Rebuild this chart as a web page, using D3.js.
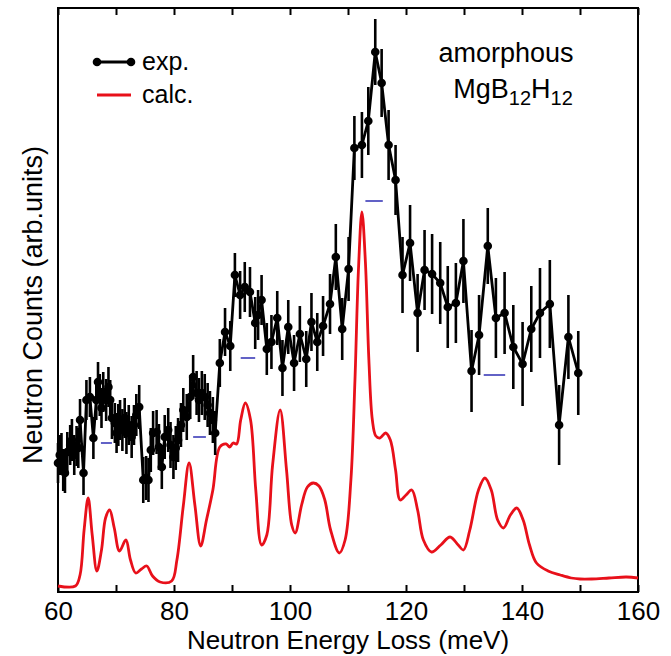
<!DOCTYPE html>
<html><head><meta charset="utf-8">
<script src="https://cdn.jsdelivr.net/npm/d3@7"></script>
<style>
html,body{margin:0;padding:0;background:#fff;}
svg text{font-family:"Liberation Sans",Arial,Helvetica,sans-serif;}
</style></head>
<body>
<svg id="chart" width="671" height="656"></svg>
<script>
// ---- data (arbitrary units) ----
const expEnergy = [60.0,60.3,60.6,60.9,61.2,61.6,62.1,62.4,62.8,63.2,63.5,63.8,64.4,64.9,65.5,66.1,66.6,66.9,67.2,67.5,67.8,68.3,68.7,69.0,69.3,69.8,70.1,70.4,70.7,71.1,71.5,71.8,72.2,72.7,73.1,73.5,74.0,74.7,75.2,75.6,76.0,76.4,77.0,77.4,77.9,78.4,79.0,79.4,79.9,80.3,80.7,81.2,81.6,82.2,82.8,83.3,83.9,84.3,84.8,85.3,85.8,86.2,86.7,87.1,87.9,88.8,89.7,90.5,91.4,92.2,93.1,94.0,94.5,95.1,96.0,96.8,97.8,98.7,99.7,100.7,101.7,102.8,103.7,104.7,105.7,106.9,107.9,109.0,110.1,111.1,112.4,113.5,114.7,115.8,117.0,118.2,119.4,120.7,122.0,123.2,124.5,125.9,127.2,128.6,129.9,131.3,132.6,134.1,135.5,137.0,138.5,140.1,141.6,143.1,144.8,146.4,148.0,149.7];
const expCounts = [129,137,139,122,119,140,147,152,137,146,144,172,119,192,195,154,192,210,197,184,200,192,205,192,174,169,159,167,172,162,174,159,167,155,167,177,185,112,114,112,142,159,160,145,125,155,162,147,135,144,152,167,182,175,195,215,199,192,199,195,187,179,172,159,229,260,246,317,297,305,300,269,277,292,243,250,274,224,265,229,258,233,270,250,266,288,335,263,323,444,447,471,540,509,447,412,317,349,279,322,318,309,285,289,331,221,257,346,274,279,245,228,263,279,288,167,255,219];
const expError = [20,20,20,21,20,20,20,21,20,20,20,21,22,20,20,21,20,20,21,20,20,21,20,20,21,20,20,21,20,21,20,21,20,21,20,21,22,23,22,22,22,22,22,23,22,22,22,23,22,22,22,22,22,23,22,22,22,22,22,23,22,22,23,22,24,24,25,22,24,25,25,26,25,25,26,27,27,28,27,28,28,28,29,29,30,30,33,31,32,32,33,34,33,34,35,35,38,38,39,40,40,41,41,40,42,41,40,38,40,41,42,42,43,45,44,40,42,42];

const calcEnergy = [60,63,63.8,64.5,65.2,65.9,66.7,67.5,68.2,68.9,69.7,70.6,71.7,72.5,73.4,74.4,75.3,76.3,77.6,79.6,80.5,81.6,82.6,83.6,84.6,85.6,86.7,87.9,89.0,89.6,90.2,90.8,91.5,92.3,93.2,94.1,95.1,96.0,97.0,98.3,99.4,100.3,100.9,102,103,104,105,106,107,108.5,109.5,110.5,111.2,111.8,112.4,113.0,113.6,114.2,114.8,115.5,116.5,117.3,118.2,119.0,120.0,121.0,122.0,123.0,124.4,126.0,127.6,129.0,129.9,131.0,132.5,133.6,134.7,135.8,136.8,138.0,139.1,140.2,141.3,142.5,144.5,146.6,148.5,150,152,155,158,160];
const calcCounts = [6,6,17,62,94,57,21,42,74,82,64,41,52,32,19,23,26,16,10,11,32,86,129,87,46,72,102,145,148,145,149,148,172,189,172,102,47,57,127,182,122,67,59,87,105,109,106,92,62,39,52,112,212,322,380,330,232,172,156,154,159,152,122,92,97,102,82,52,40,47,55,47,42,62,102,114,102,72,64,77,84,72,47,29,21,17,14,13,13,14,15,14];

const resCenter = [68.35,84.4,92.75,114.5,135.25];
const resWidth  = [1.9,2.2,2.5,3.0,3.7];
const resLevel  = [149,155,234,391,217];

const xTickValues = [60,70,80,90,100,110,120,130,140,150,160];
const xLabelValues = [60,80,100,120,140,160];
const legendLabels = ["exp.","calc."];

// ---- layout ----
const svg = d3.select("#chart");
const L = 58, R = 638, T = 8, B = 592;
const x = d3.scaleLinear().domain([60,160]).range([L,R]);
const y = d3.scaleLinear().domain([0,584]).range([B,T]);

// axes
const gb = svg.append("g").attr("transform",`translate(0,${B})`)
  .call(d3.axisBottom(x).tickValues(xTickValues).tickSizeInner(-7).tickSizeOuter(0).tickPadding(10)
    .tickFormat(d => xLabelValues.includes(d) ? d : ""));
gb.select(".domain").remove();
gb.selectAll("line").attr("stroke","#000").attr("stroke-width",2);
gb.selectAll("text").attr("font-size",26).attr("fill","#000").style("font-family","'Liberation Sans',Arial,sans-serif");

const gt = svg.append("g").attr("transform",`translate(0,${T})`)
  .call(d3.axisTop(x).tickValues(xTickValues).tickSizeInner(-7).tickSizeOuter(0).tickFormat(""));
gt.select(".domain").remove();
gt.selectAll("line").attr("stroke","#000").attr("stroke-width",2);

// frame
svg.append("rect").attr("x",L).attr("y",T).attr("width",R-L).attr("height",B-T)
  .attr("fill","none").attr("stroke","#000").attr("stroke-width",2);

// calc line
svg.append("path").datum(calcEnergy.map((e,i)=>[e,calcCounts[i]]))
  .attr("fill","none").attr("stroke","#e8101a").attr("stroke-width",2.8)
  .attr("d", d3.line().x(d=>x(d[0])).y(d=>y(d[1])).curve(d3.curveCatmullRom.alpha(0.5)));

// resolution bars
svg.append("g").selectAll("line").data(resCenter).join("line")
  .attr("x1",(c,i)=>x(c-resWidth[i]/2)).attr("x2",(c,i)=>x(c+resWidth[i]/2))
  .attr("y1",(c,i)=>y(resLevel[i])).attr("y2",(c,i)=>y(resLevel[i]))
  .attr("stroke","#3a3ab8").attr("stroke-width",1.6);

// exp error bars
const expData = expEnergy.map((e,i)=>({e, c:expCounts[i], s:expError[i]}));
svg.append("g").selectAll("line").data(expData).join("line")
  .attr("x1",d=>x(d.e)).attr("x2",d=>x(d.e))
  .attr("y1",d=>y(d.c-d.s)).attr("y2",d=>y(d.c+d.s))
  .attr("stroke","#000").attr("stroke-width",2.6);
// exp line
svg.append("path").datum(expData).attr("fill","none").attr("stroke","#000").attr("stroke-width",2.8)
  .attr("d", d3.line().x(d=>x(d.e)).y(d=>y(d.c)));
svg.append("g").selectAll("circle").data(expData).join("circle")
  .attr("cx",d=>x(d.e)).attr("cy",d=>y(d.c)).attr("r",4.3).attr("fill","#000");

// legend
const lg = svg.append("g");
lg.append("line").attr("x1",97).attr("x2",131).attr("y1",62).attr("y2",62).attr("stroke","#000").attr("stroke-width",2.8);
lg.append("circle").attr("cx",97).attr("cy",62).attr("r",4.3).attr("fill","#000");
lg.append("circle").attr("cx",131).attr("cy",62).attr("r",4.3).attr("fill","#000");
lg.append("line").attr("x1",97).attr("x2",131).attr("y1",95).attr("y2",95).attr("stroke","#e8101a").attr("stroke-width",2.8);
lg.append("text").attr("x",142).attr("y",70).attr("font-size",25).text(legendLabels[0]);
lg.append("text").attr("x",142).attr("y",103).attr("font-size",25).text(legendLabels[1]);

// sample label
svg.append("text").attr("x",506).attr("y",62).attr("text-anchor","middle").attr("font-size",27).text("amorphous");
const t2 = svg.append("text").attr("x",513).attr("y",98).attr("text-anchor","middle").attr("font-size",27);
t2.append("tspan").text("MgB");
t2.append("tspan").attr("font-size",20).attr("dy",7).text("12");
t2.append("tspan").attr("dy",-7).text("H");
t2.append("tspan").attr("font-size",20).attr("dy",7).text("12");

// axis titles
svg.append("text").attr("x",(L+R)/2).attr("y",649).attr("text-anchor","middle").attr("font-size",26)
  .text("Neutron Energy Loss (meV)");
svg.append("text").attr("transform",`translate(42,${305}) rotate(-90)`).attr("text-anchor","middle").attr("font-size",27)
  .text("Neutron Counts (arb.units)");
</script>
</body></html>
